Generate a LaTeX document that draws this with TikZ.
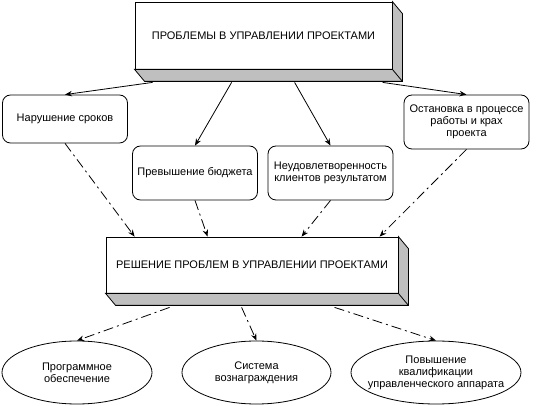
\documentclass[tikz,border=0pt]{standalone}
\usepackage{fontspec}
\setmainfont{Liberation Sans}
\usepackage{tikz}
\usetikzlibrary{arrows.meta, shapes.geometric}
\usetikzlibrary{positioning}

\tikzset{
	slab/.style={draw, fill=white, inner sep=0pt},
	issue/.style={draw, rounded corners=8pt, align=center, inner sep=1pt, minimum width=125pt},
	remedy/.style={draw, ellipse, inner sep=0pt, minimum height=63pt},
	cause/.style={-{Stealth[length=7pt,width=5.5pt]}},
	fix/.style={-{Stealth[length=7pt,width=5.5pt]}, dash pattern=on 10pt off 4pt on 2pt off 4pt},
}

% grey depth of a box, down and to the right
\newcommand{\slabshade}[1]{%
	\filldraw[fill=gray!50] (#1.south west) -- ++(10,12) -- ([shift={(10,12)}]#1.south east)
		-- ([shift={(10,12)}]#1.north east) -- (#1.north east) -- (#1.south east) -- cycle;
	\draw (#1.south east) -- ++(10,12);
}

\begin{document}
\begin{tikzpicture}[x=1pt, y=-1pt, line width=0.8pt, font=\fontsize{11}{12}\selectfont]
			\useasboundingbox (0,0) rectangle (547,406);
			
			\node[slab, minimum width=257pt, minimum height=67pt] (problems) at (263.5,35.5) {ПРОБЛЕМЫ В УПРАВЛЕНИИ ПРОЕКТАМИ};
			\slabshade{problems}
			
			\node[issue, minimum height=48pt] (deadlines) at (65,119) {Нарушение сроков};
			\node[issue, minimum height=54pt] (budget) at (195,173) {Превышение бюджета};
			\node[issue, minimum height=54pt] (clients) at (330.5,173) {Неудовлетворенность\\клиентов результатом};
			\node[issue, minimum height=54pt] (halt) at (466.5,122) {Остановка в процессе\\работы и крах\\проекта};
			
			\node[slab, minimum width=292pt, minimum height=56pt] (solution) at (252,265) {РЕШЕНИЕ ПРОБЛЕМ В УПРАВЛЕНИИ ПРОЕКТАМИ};
			\slabshade{solution}
			
			\node[remedy, minimum width=150pt, label={[align=center]center:{Программное\\обеспечение}}] (software) at (77,372.5) {};
			\node[remedy, minimum width=149pt, label={[align=center]center:{Система\\вознаграждения}}] (reward) at (256.5,372.5) {};
			\node[remedy, minimum width=170pt, label={[align=center]center:{Повышение\\квалификации\\управленческого аппарата}}] (skills) at (436,372.5) {};
			
			\draw[cause] ([shift={(18,13)}]problems.south west) -- (deadlines.north);
			\draw[cause] ([shift={(97,13)}]problems.south west) -- (budget.north);
			\draw[cause] ([shift={(160,13)}]problems.south west) -- (clients.north);
			\draw[cause] ([shift={(248,13)}]problems.south west) -- (halt.north);
			
			\draw[fix] (deadlines.south) -- ([xshift=29pt]solution.north west);
			\draw[fix] (budget.south) -- ([xshift=102pt]solution.north west);
			\draw[fix] (clients.south) -- ([xshift=196pt]solution.north west);
			\draw[fix] (halt.south) -- ([xshift=274pt]solution.north west);
			
			\draw[fix] ([shift={(64,14)}]solution.south west) -- (software.north);
			\draw[fix] ([shift={(136,14)}]solution.south west) -- (reward.north);
			\draw[fix] ([shift={(229,14)}]solution.south west) -- (skills.north);
			
		\end{tikzpicture}
\end{document}
